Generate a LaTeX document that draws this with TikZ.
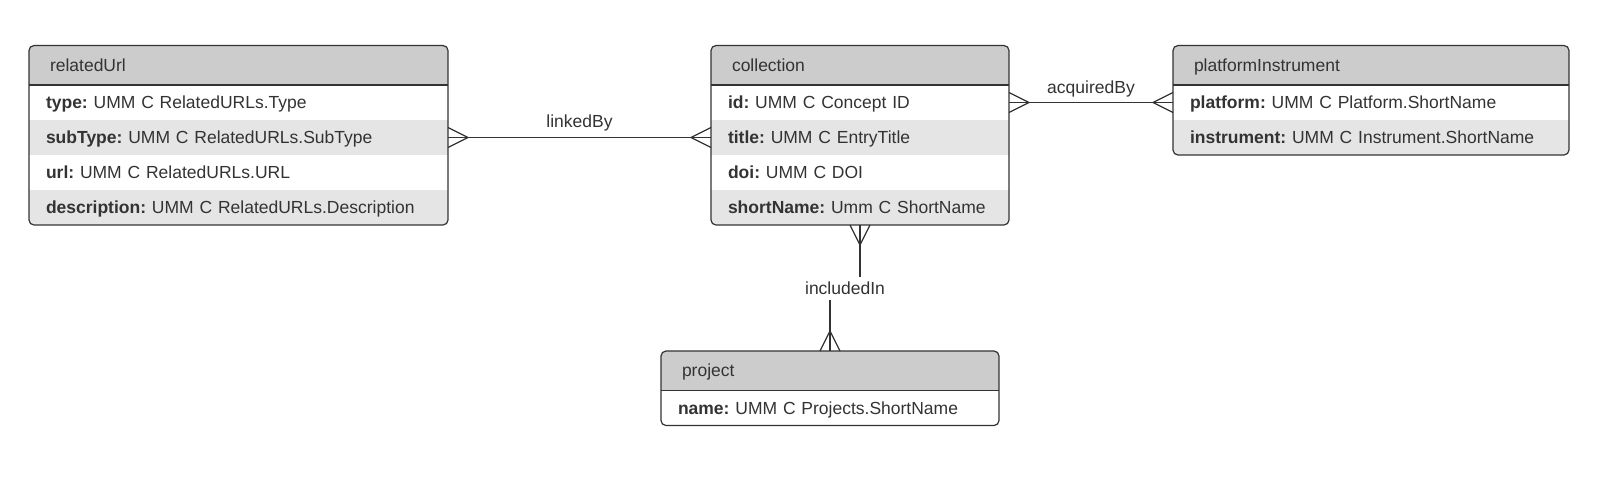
\documentclass[tikz,border=0pt]{standalone}
\usepackage{fontspec}
\setmainfont{Liberation Sans}
\usepackage{tikz}
\usetikzlibrary{positioning, calc, backgrounds}
\definecolor{headgray}{HTML}{CCCCCC}
\definecolor{rowgray}{HTML}{E5E5E5}
\definecolor{ink}{HTML}{333333}
\frenchspacing

\begin{document}
\begin{tikzpicture}[x=1pt, y=-1pt,
		font=\fontsize{17.5pt}{21pt}\selectfont, text=ink,
		every node/.style={outer sep=0pt, text height=14.5pt, text depth=2.5pt},
		head/.style={minimum height=39.5pt, inner ysep=0pt, inner xsep=21pt, text width=#1, align=left},
		field/.style={minimum height=35pt, inner ysep=0pt, inner xsep=17pt, text width=#1, align=left},
		box/.style={draw=ink, line width=1.2pt},
		conn/.style={draw=ink, line width=1.3pt},
		lbl/.style={inner sep=3pt, fill=white},
		crowfoot/.pic={\draw[conn] (0,-10) -- (20,0) -- (0,10);}
	]
	\useasboundingbox (0,0) rectangle (1603,483);
	
	% relatedUrl
	\node[head=377pt, anchor=north west] (url) at (29,45.5) {relatedUrl};
	\node[field=385pt, below=0pt of url] (url-type) {\textbf{type:} UMM C RelatedURLs.Type};
	\node[field=385pt, below=0pt of url-type] (url-sub) {\textbf{subType:} UMM C RelatedURLs.SubType};
	\node[field=385pt, below=0pt of url-sub] (url-url) {\textbf{url:} UMM C RelatedURLs.URL};
	\node[field=385pt, below=0pt of url-url] (url-desc) {\textbf{description:} UMM C RelatedURLs.Description};
	
	% collection
	\node[head=256pt, anchor=north west] (coll) at (711,45.5) {collection};
	\node[field=264pt, below=0pt of coll] (coll-id) {\textbf{id:} UMM C Concept ID};
	\node[field=264pt, below=0pt of coll-id] (coll-title) {\textbf{title:} UMM C EntryTitle};
	\node[field=264pt, below=0pt of coll-title] (coll-doi) {\textbf{doi:} UMM C DOI};
	\node[field=264pt, below=0pt of coll-doi] (coll-short) {\textbf{shortName:} Umm C ShortName};
	
	% platformInstrument
	\node[head=354pt, anchor=north west] (plat) at (1173,45.5) {platformInstrument};
	\node[field=362pt, below=0pt of plat] (plat-platform) {\textbf{platform:} UMM C Platform.ShortName};
	\node[field=362pt, below=0pt of plat-platform] (plat-inst) {\textbf{instrument:} UMM C Instrument.ShortName};
	
	% project
	\node[head=296pt, anchor=north west] (proj) at (661,351) {project};
	\node[field=304pt, below=0pt of proj] (proj-name) {\textbf{name:} UMM C Projects.ShortName};
	
	% Fills
	\begin{scope}[on background layer]
		\foreach \e/\last/\alts in {url/url-desc/{url-sub,url-desc}, coll/coll-short/{coll-title,coll-short}, plat/plat-inst/{plat-inst}, proj/proj-name/{}}
		{
			\begin{scope}
				\clip[rounded corners=5pt] (\e.north west) rectangle (\last.south east);
				\fill[headgray] (\e.north west) rectangle (\e.south east);
				\foreach \r in \alts
					\fill[rowgray] (\r.north west) rectangle (\r.south east);
			\end{scope}
		}
	\end{scope}
	
	% Borders
	\foreach \e/\last in {url/url-desc, coll/coll-short, plat/plat-inst, proj/proj-name}
	{
		\draw[box, rounded corners=5pt] (\e.north west) rectangle (\last.south east);
		\draw[box] (\e.south west) -- (\e.south east);
	}
	
	% Relations
	\draw[conn] (url-sub.east) -- node[lbl, above=5pt] (linked) {linkedBy} (coll-title.west);
	\draw[conn] (coll-id.east) -- node[lbl, above=4pt] (acquired) {acquiredBy} (plat-platform.west);
	\coordinate (incl-mid) at ($(coll-short.south)!.5!(proj.north)$);
	\draw[conn] (coll-short.south) |- (incl-mid) -| (proj.north);
	\node[lbl] (included) at (incl-mid) {includedIn};
	
	% Crow's feet
	\pic at (url-sub.east) {crowfoot};
	\pic[rotate=180] at (coll-title.west) {crowfoot};
	\pic at (coll-id.east) {crowfoot};
	\pic[rotate=180] at (plat-platform.west) {crowfoot};
	\pic[rotate=-90] at (coll-short.south) {crowfoot};
	\pic[rotate=90] at (proj.north) {crowfoot};
	
\end{tikzpicture}
\end{document}
